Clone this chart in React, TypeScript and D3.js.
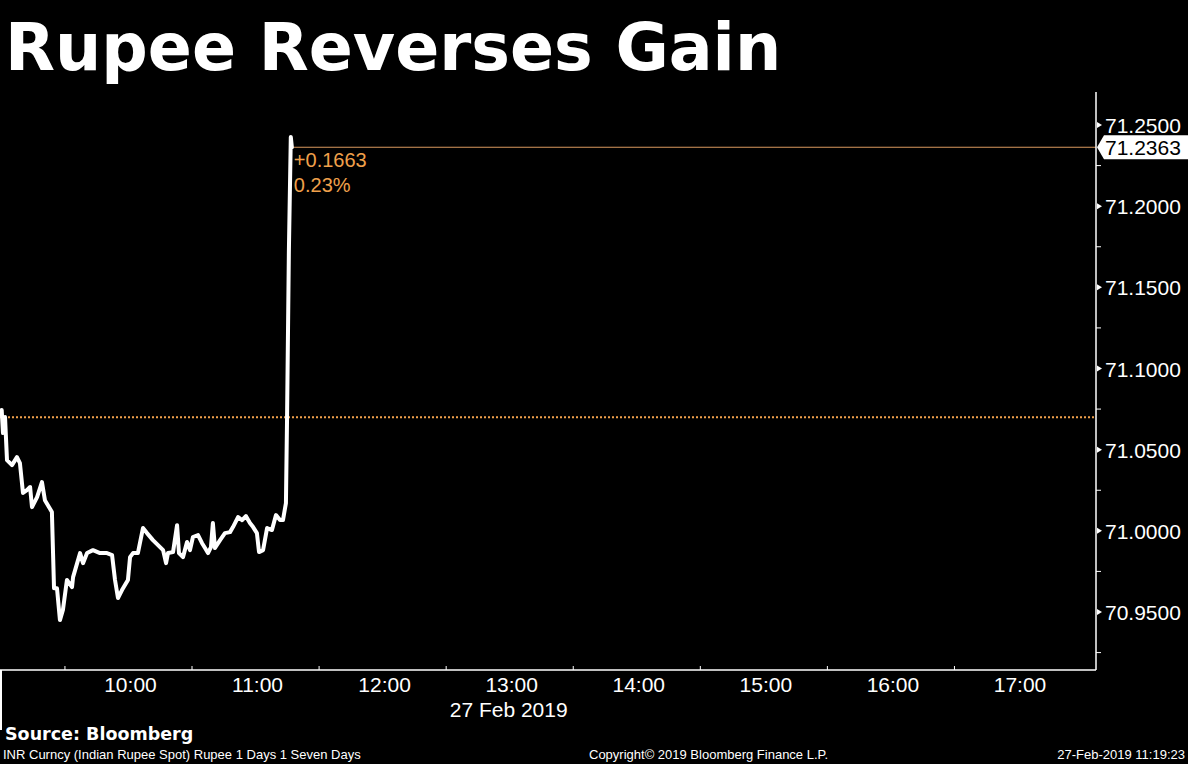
import React from "react";
import * as d3 from "d3";

const DAY = "2019-02-27";
const TIMES = [
  "08:59:12", "08:59:48", "09:00:46", "09:01:42", "09:04:04", "09:06:24", "09:07:48", "09:09:15",
  "09:11:06", "09:12:36", "09:13:30", "09:15:54", "09:18:12", "09:19:36", "09:22:54", "09:23:54",
  "09:25:18", "09:26:42", "09:28:06", "09:30:00", "09:32:24", "09:32:54", "09:36:12", "09:37:36",
  "09:39:30", "09:42:18", "09:45:36", "09:48:54", "09:51:18", "09:52:42", "09:54:06", "09:56:00",
  "09:58:48", "09:59:48", "10:01:12", "10:03:30", "10:05:54", "10:07:48", "10:10:36", "10:13:00",
  "10:15:24", "10:16:48", "10:17:42", "10:20:06", "10:22:00", "10:22:54", "10:24:48", "10:26:42",
  "10:28:06", "10:29:30", "10:31:54", "10:33:48", "10:35:12", "10:36:36", "10:38:00", "10:38:54",
  "10:39:54", "10:42:18", "10:44:36", "10:47:00", "10:48:24", "10:50:48", "10:52:42", "10:54:30",
  "10:56:24", "10:57:54", "10:59:42", "11:00:42", "11:02:36", "11:04:30", "11:06:48", "11:08:42",
  "11:10:36", "11:12:00", "11:13:24", "11:13:54", "11:14:48", "11:15:42", "11:16:12",
];
const VALUES = [
  71.0744, 71.0602, 71.0701, 71.0436, 71.0405, 71.0454, 71.0417, 71.0233,
  71.0251, 71.027, 71.0146, 71.0208, 71.03, 71.0189, 71.0116, 70.9647,
  70.9647, 70.945, 70.9512, 70.9697, 70.9653, 70.9715, 70.9863, 70.9801,
  70.9863, 70.9881, 70.9863, 70.9863, 70.9851, 70.9697, 70.9586, 70.9635,
  70.9697, 70.9838, 70.9863, 70.9863, 71.0017, 70.9986, 70.9943, 70.9912,
  70.9881, 70.9801, 70.9863, 70.9869, 71.0035, 70.9863, 70.9838, 70.9931,
  70.9881, 70.9962, 70.9974, 70.9924, 70.9894, 70.9863, 70.99, 71.0048,
  70.9894, 70.9943, 70.9986, 70.9992, 71.0023, 71.0085, 71.0066, 71.0091,
  71.0048, 71.0023, 70.9986, 70.9869, 70.9881, 71.0017, 71.0005, 71.0097,
  71.0066, 71.0066, 71.0171, 71.0664, 71.173, 71.2426, 71.2363,
];
const PREV_CLOSE = 71.07;
const LAST_PRICE = 71.2363;
const CHANGE_TEXT = ["+0.1663", "0.23%"];
const Y_TICKS = [70.95, 71.0, 71.05, 71.1, 71.15, 71.2, 71.25];
const Y_MINOR = [70.925, 70.975, 71.025, 71.075, 71.125, 71.175, 71.225];
const X_HOURS = ["10:00", "11:00", "12:00", "13:00", "14:00", "15:00", "16:00", "17:00"];
const X_MINOR = ["09:30", "10:30", "11:30", "12:30", "13:30", "14:30", "15:30", "16:30"];
const DATE_LABEL = "27 Feb 2019";
const TITLE = "Rupee Reverses Gain";
const SOURCE = "Source: Bloomberg";
const FOOT_LEFT = "INR Curncy (Indian Rupee Spot) Rupee 1 Days 1 Seven Days";
const FOOT_MID = "Copyright\u00a9 2019 Bloomberg Finance L.P.";
const FOOT_RIGHT = "27-Feb-2019 11:19:23";

const parse = (t: string) => new Date(`${DAY}T${t.length === 5 ? t + ":00" : t}`);

const W = 1188;
const H = 764;
const AXIS_X = 1096;
const AXIS_TOP = 92;
const AXIS_BOTTOM = 670;
const ORANGE = "#f0a04b";
const AXIS_FONT = "'Liberation Sans', Arial, sans-serif";

export default function App() {
  const x = d3.scaleTime().domain([parse("09:00"), parse("17:00")]).range([3.4, 1020]);
  const y = d3.scaleLinear().domain([70.95, 71.25]).range([612, 125]);
  const data = TIMES.map((t, i) => ({ t: parse(t), v: VALUES[i] }));
  const line = d3
    .line<{ t: Date; v: number }>()
    .x((d) => x(d.t))
    .y((d) => y(d.v))
    .curve(d3.curveLinear);
  const last = data[data.length - 1];
  const lastX = x(last.t);
  const lastY = y(LAST_PRICE);

  return (
    <svg
      width={W}
      height={H}
      style={{ position: "absolute", left: 0, top: 0, background: "#000", display: "block" }}
    >
      <rect x={0} y={0} width={W} height={H} fill="#000" />
      <text x={5} y={70} fill="#fff" fontFamily="'DejaVu Sans', Verdana, sans-serif" fontWeight="bold" fontSize={65}>
        {TITLE}
      </text>

      {/* previous close dotted line */}
      <line x1={0} x2={AXIS_X} y1={y(PREV_CLOSE)} y2={y(PREV_CLOSE)} stroke={ORANGE} strokeWidth={2} strokeDasharray="2,2" />
      {/* last price line */}
      <line x1={lastX} x2={AXIS_X} y1={lastY} y2={lastY} stroke="#d9995e" strokeWidth={1.2} />

      <path d={line(data) || ""} fill="none" stroke="#fff" strokeWidth={4} strokeLinejoin="round" strokeLinecap="round" />

      <text x={lastX + 2} y={167} fill={ORANGE} fontFamily={AXIS_FONT} fontSize={20}>
        {CHANGE_TEXT[0]}
      </text>
      <text x={lastX + 2} y={192} fill={ORANGE} fontFamily={AXIS_FONT} fontSize={20}>
        {CHANGE_TEXT[1]}
      </text>

      {/* axes */}
      <line x1={AXIS_X} x2={AXIS_X} y1={AXIS_TOP} y2={AXIS_BOTTOM} stroke="#fff" strokeWidth={1.5} />
      <line x1={0} x2={AXIS_X} y1={AXIS_BOTTOM} y2={AXIS_BOTTOM} stroke="#fff" strokeWidth={1.5} />
      <line x1={1} x2={1} y1={AXIS_BOTTOM} y2={730} stroke="#fff" strokeWidth={2} />

      {Y_MINOR.map((v) => (
        <line key={v} x1={AXIS_X} x2={AXIS_X + 5} y1={y(v)} y2={y(v)} stroke="#fff" strokeWidth={1} />
      ))}
      {Y_TICKS.map((v) => (
        <g key={v}>
          <path d={`M${AXIS_X + 1},${y(v) - 3}L${AXIS_X + 6},${y(v)}L${AXIS_X + 1},${y(v) + 3}Z`} fill="#fff" />
          <text x={1105} y={y(v) + 8} fill="#fff" fontFamily={AXIS_FONT} fontSize={21}>
            {v.toFixed(4)}
          </text>
        </g>
      ))}

      {/* last price tag */}
      <path
        d={`M${AXIS_X + 1},${lastY}L${AXIS_X + 8},${lastY - 12}L${W},${lastY - 12}L${W},${lastY + 12}L${AXIS_X + 8},${lastY + 12}Z`}
        fill="#fff"
      />
      <text x={1105} y={lastY + 8} fill="#000" fontFamily={AXIS_FONT} fontSize={21}>
        {LAST_PRICE.toFixed(4)}
      </text>

      {X_MINOR.map((t) => (
        <line key={t} x1={x(parse(t)) - 2} x2={x(parse(t)) - 2} y1={AXIS_BOTTOM} y2={AXIS_BOTTOM - 4} stroke="#fff" strokeWidth={1} />
      ))}
      {X_HOURS.map((t) => (
        <text key={t} x={x(parse(t))} y={692} fill="#fff" fontFamily={AXIS_FONT} fontSize={21} textAnchor="middle">
          {t}
        </text>
      ))}
      <text x={x(parse("13:00")) - 3} y={717} fill="#fff" fontFamily={AXIS_FONT} fontSize={21} textAnchor="middle">
        {DATE_LABEL}
      </text>

      <text x={5} y={740} fill="#fff" fontFamily="'DejaVu Sans', Verdana, sans-serif" fontWeight="bold" fontSize={17.5}>
        {SOURCE}
      </text>
      <text x={3} y={759} fill="#fff" fontFamily={AXIS_FONT} fontSize={13}>
        {FOOT_LEFT}
      </text>
      <text x={589} y={759} fill="#fff" fontFamily={AXIS_FONT} fontSize={13}>
        {FOOT_MID}
      </text>
      <text x={1185} y={759} fill="#fff" fontFamily={AXIS_FONT} fontSize={13} textAnchor="end">
        {FOOT_RIGHT}
      </text>
    </svg>
  );
}
